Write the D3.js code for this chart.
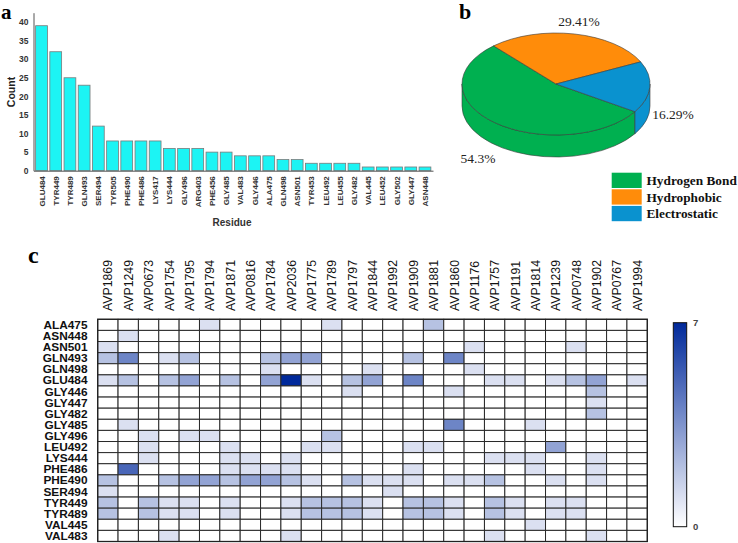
<!DOCTYPE html>
<html><head><meta charset="utf-8">
<script src="https://cdn.jsdelivr.net/npm/d3@7"></script>
<style>
body{margin:0;background:#fff;}
svg{display:block;}
</style></head>
<body>
<svg id="chart" width="738" height="543"></svg>
<script>
// ---------- Panel a data ----------
const residues = ["GLU484","TYR449","TYR489","GLN493","SER494","TYR505","PHE490","PHE486","LYS417","LYS444","GLY496","ARG403","PHE456","GLY485","VAL483","GLY446","ALA475","GLN498","ASN501","TYR453","LEU492","LEU455","GLY482","VAL445","LEU452","GLY502","GLY447","ASN448"];
const counts = [39,32,25,23,12,8,8,8,8,6,6,6,5,5,4,4,4,3,3,2,2,2,2,1,1,1,1,1];
const countTicks = [0,5,10,15,20,25,30,35,40];

// ---------- Panel b data ----------
const pieLabels = ["Hydrogen Bond","Hydrophobic","Electrostatic"];
const pieValues = [54.3, 29.41, 16.29];
const pieText = ["54.3%","29.41%","16.29%"];
const pieColors = ["#00b050","#ff8c0a","#0a92cf"];

// ---------- Panel c data ----------
const peptides = ["AVP1869","AVP1249","AVP0673","AVP1754","AVP1795","AVP1794","AVP1871","AVP0816","AVP1784","AVP2036","AVP1775","AVP1789","AVP1797","AVP1844","AVP1992","AVP1909","AVP1881","AVP1860","AVP1176","AVP1757","AVP1191","AVP1814","AVP1239","AVP0748","AVP1902","AVP0767","AVP1994"];
const hmResidues = ["ALA475","ASN448","ASN501","GLN493","GLN498","GLU484","GLY446","GLY447","GLY482","GLY485","GLY496","LEU492","LYS444","PHE486","PHE490","SER494","TYR449","TYR489","VAL445","VAL483"];
// each row: 27 values (one per peptide)
const hmValues = [
 [0,0,0,0,0,1,0,0,0,0,0,1,0,0,0,0,2,0,0,0,0,0,0,0,0,0,0], // ALA475
 [0,1,0,0,0,0,0,0,0,0,0,0,0,0,0,0,0,0,0,0,0,0,0,0,0,0,0], // ASN448
 [1,0,0,0,0,0,0,0,0,0,0,0,0,0,0,0,0,0,1,0,0,0,0,1,0,0,0], // ASN501
 [2,4,0,1,2,0,0,0,2,3,3,0,0,0,0,2,0,4,0,0,0,0,0,0,0,0,0], // GLN493
 [0,0,0,0,0,0,0,0,1,0,0,0,0,1,0,0,0,0,1,0,0,0,0,0,0,0,0], // GLN498
 [1,2,0,2,3,0,2,0,3,7,1,0,2,3,0,4,0,0,0,1,1,0,1,2,3,0,1], // GLU484
 [0,0,0,0,0,0,0,0,0,0,0,0,1,0,0,0,0,1,0,0,0,0,0,0,2,0,0], // GLY446
 [0,0,0,0,0,0,0,0,0,0,0,0,0,0,0,0,0,0,0,0,0,0,0,0,1,0,0], // GLY447
 [0,0,0,0,0,0,0,0,0,0,0,0,0,0,0,0,0,0,0,0,0,0,0,0,2,0,0], // GLY482
 [0,1,0,0,0,0,0,0,0,0,0,0,0,0,0,0,0,4,0,0,0,1,0,0,0,0,0], // GLY485
 [0,0,1,0,1,1,0,0,0,0,0,2,0,0,0,0,0,0,0,0,0,0,0,0,0,0,0], // GLY496
 [0,0,1,0,0,0,1,0,0,0,1,1,0,0,0,1,1,0,0,0,0,0,3,0,0,0,0], // LEU492
 [0,0,1,0,0,0,1,1,0,1,0,0,0,0,0,0,0,0,0,1,1,1,0,0,1,0,0], // LYS444
 [0,5,0,0,0,0,1,1,1,1,0,0,0,0,0,1,0,0,0,0,0,1,0,0,1,0,0], // PHE486
 [2,0,0,2,3,3,2,3,3,2,1,0,2,1,1,1,0,1,1,2,0,0,1,0,1,0,0], // PHE490
 [1,0,0,0,0,0,0,0,0,0,0,0,0,0,1,0,0,0,0,0,0,0,0,0,0,0,0], // SER494
 [2,0,2,1,1,0,1,0,0,1,2,2,2,1,0,2,2,1,0,2,1,0,1,1,0,0,0], // TYR449
 [2,0,2,1,1,0,1,0,0,1,2,2,2,1,0,2,2,1,0,2,1,0,1,1,0,0,0], // TYR489
 [0,0,0,0,0,0,0,0,0,0,0,0,0,0,0,0,0,0,0,0,0,1,0,0,0,0,0], // VAL445
 [0,0,0,1,0,0,0,0,0,1,0,0,0,0,0,0,0,0,0,1,0,0,0,0,1,0,0]  // VAL483
];
const colorTicks = [0, 7];

const svg = d3.select("#chart");
svg.append("rect").attr("width",738).attr("height",543).attr("fill","#fff");
const serif = "'Liberation Serif','Times New Roman',serif";
const sans = "'Liberation Sans',Arial,Helvetica,sans-serif";

// ================= Panel a =================
const ga = svg.append("g");
const xA = d3.scaleBand().domain(residues).range([33.5, 433]).paddingInner(0.17).paddingOuter(0.15);
const yA = d3.scaleLinear().domain([0, 42.5]).range([170.7, 12.7]);

ga.selectAll("rect.bar").data(residues).join("rect")
  .attr("class","bar")
  .attr("x", d => xA(d))
  .attr("width", xA.bandwidth())
  .attr("y", (d,i) => yA(counts[i]))
  .attr("height", (d,i) => yA(0) - yA(counts[i]))
  .attr("fill","#1cf4f4").attr("stroke","#7a7a7a").attr("stroke-width",0.8);

const yAxisA = ga.append("g").attr("transform","translate(33.5,0)")
  .call(d3.axisLeft(yA).tickValues(countTicks).tickSize(0).tickPadding(5));
yAxisA.select(".domain").attr("stroke","#555");
yAxisA.selectAll("text").attr("font-family",sans).attr("font-weight","bold").attr("font-size","8.5px").attr("fill","#333");

const xAxisA = ga.append("g").attr("transform","translate(0,170.7)")
  .call(d3.axisBottom(xA).tickSize(0).tickSizeOuter(0));
xAxisA.select(".domain").attr("stroke","#555");
xAxisA.selectAll("text")
  .attr("font-family",sans).attr("font-weight","bold").attr("font-size","8px").attr("fill","#333")
  .attr("text-anchor","end").attr("dy",null).attr("y",0)
  .attr("transform","translate(3,5.5) rotate(-90)");

ga.append("text").attr("x",232).attr("y",225.5).attr("text-anchor","middle")
  .attr("font-family",sans).attr("font-weight","bold").attr("font-size","10px").attr("fill","#333").text("Residue");
ga.append("text").attr("transform","translate(14.5,92) rotate(-90)").attr("text-anchor","middle")
  .attr("font-family",sans).attr("font-weight","bold").attr("font-size","10.5px").attr("fill","#222").text("Count");
svg.append("text").attr("x",1).attr("y",18.5).attr("font-family",serif).attr("font-weight","bold").attr("font-size","21px").text("a");

// ================= Panel b =================
const gb = svg.append("g");
const cx = 556, cy = 84, rx = 94, ry = 51, depth = 22;
const sa = 122.9 * Math.PI / 180;
const pie = d3.pie().sort(null).startAngle(sa).endAngle(sa + 2*Math.PI);
const arcs = pie(pieValues);
const P = a => [cx + rx*Math.sin(a), cy - ry*Math.cos(a)];

// sides (front half: angles in [pi/2, 3pi/2] mod 2pi)
arcs.forEach((d,i) => {
  for (let k = -1; k <= 2; k++) {
    const lo = Math.PI/2 + 2*Math.PI*k, hi = 3*Math.PI/2 + 2*Math.PI*k;
    const s = Math.max(lo, d.startAngle), e = Math.min(hi, d.endAngle);
    if (e > s) {
      const p0 = P(s), p1 = P(e);
      const path = `M${p0[0]},${p0[1]} A${rx},${ry} 0 0 1 ${p1[0]},${p1[1]} L${p1[0]},${p1[1]+depth} A${rx},${ry} 0 0 0 ${p0[0]},${p0[1]+depth} Z`;
      gb.append("path").attr("d",path).attr("fill",pieColors[i]).attr("stroke","#3a3a3a").attr("stroke-width",0.6);
    }
  }
});
// top faces
arcs.forEach((d,i) => {
  const p0 = P(d.startAngle), p1 = P(d.endAngle);
  const large = (d.endAngle - d.startAngle) > Math.PI ? 1 : 0;
  const path = `M${cx},${cy} L${p0[0]},${p0[1]} A${rx},${ry} 0 ${large} 1 ${p1[0]},${p1[1]} Z`;
  gb.append("path").attr("d",path).attr("fill",pieColors[i]).attr("stroke","#3a3a3a").attr("stroke-width",0.6);
});
// labels
const labelPos = [[478,163.3],[579,26],[673,119]];
pieText.forEach((t,i) => {
  gb.append("text").attr("x",labelPos[i][0]).attr("y",labelPos[i][1]).attr("text-anchor","middle")
    .attr("font-family",serif).attr("font-size","13.5px").attr("fill","#222").text(t);
});
// legend
pieLabels.forEach((t,i) => {
  const y0 = 172.7 + i*16.6;
  gb.append("rect").attr("x",611.7).attr("y",y0).attr("width",30).attr("height",15.3).attr("fill",pieColors[i]);
  gb.append("text").attr("x",646.5).attr("y",y0+12.3).attr("font-family",serif).attr("font-weight","bold")
    .attr("font-size","13.3px").attr("fill","#111").text(t);
});
svg.append("text").attr("x",459).attr("y",19).attr("font-family",serif).attr("font-weight","bold").attr("font-size","22px").text("b");

// ================= Panel c =================
const gc = svg.append("g");
const xC = d3.scaleBand().domain(peptides).range([97.7, 647.3]);
const yC = d3.scaleBand().domain(hmResidues).range([319.3, 541.5]);
const color = d3.scaleLinear().domain([0,7]).range(["#ffffff","#00299b"]);

const cells = [];
hmResidues.forEach((r,ri) => peptides.forEach((p,ci) => cells.push({r, p, v: hmValues[ri][ci]})));
gc.selectAll("rect.cell").data(cells).join("rect").attr("class","cell")
  .attr("x", d => xC(d.p)).attr("y", d => yC(d.r))
  .attr("width", xC.bandwidth()).attr("height", yC.bandwidth())
  .attr("fill", d => color(d.v)).attr("stroke","#2a2a2a").attr("stroke-width",1);
gc.append("rect").attr("x",97.7).attr("y",319.3).attr("width",549.6).attr("height",222.2)
  .attr("fill","none").attr("stroke","#222").attr("stroke-width",1.3);

gc.selectAll("text.col").data(peptides).join("text").attr("class","col")
  .attr("transform", d => `translate(${xC(d) + xC.bandwidth()/2 + 4.6},311) rotate(-90)`)
  .attr("font-family",sans).attr("font-size","12.3px").attr("fill","#111").text(d => d);
gc.selectAll("text.row").data(hmResidues).join("text").attr("class","row")
  .attr("transform", d => `translate(87.5,${yC(d) + yC.bandwidth()/2 + 4}) scale(1.14,1.08)`)
  .attr("text-anchor","end")
  .attr("font-family",sans).attr("font-weight","bold").attr("font-size","10.4px").attr("fill","#111").text(d => d);

// colorbar
const cbY = d3.scaleLinear().domain([0,7]).range([526.7, 322.7]);
const defs = svg.append("defs");
const grad = defs.append("linearGradient").attr("id","cbgrad").attr("x1",0).attr("y1",1).attr("x2",0).attr("y2",0);
d3.range(0, 7.01, 1).forEach(v => grad.append("stop").attr("offset", v/7).attr("stop-color", color(v)));
gc.append("rect").attr("x",673.3).attr("y",cbY(7)).attr("width",13.4).attr("height",cbY(0)-cbY(7))
  .attr("fill","url(#cbgrad)").attr("stroke","#111").attr("stroke-width",1);
gc.selectAll("text.cb").data(colorTicks).join("text").attr("class","cb")
  .attr("x",693).attr("y", d => cbY(d) + (d===0 ? 2.8 : 3.5))
  .attr("font-family",sans).attr("font-weight","bold").attr("font-size","9.5px").attr("fill","#444").text(d => d);

svg.append("text").attr("x",28).attr("y",263).attr("font-family",serif).attr("font-weight","bold").attr("font-size","24px").text("c");
</script>
</body></html>
